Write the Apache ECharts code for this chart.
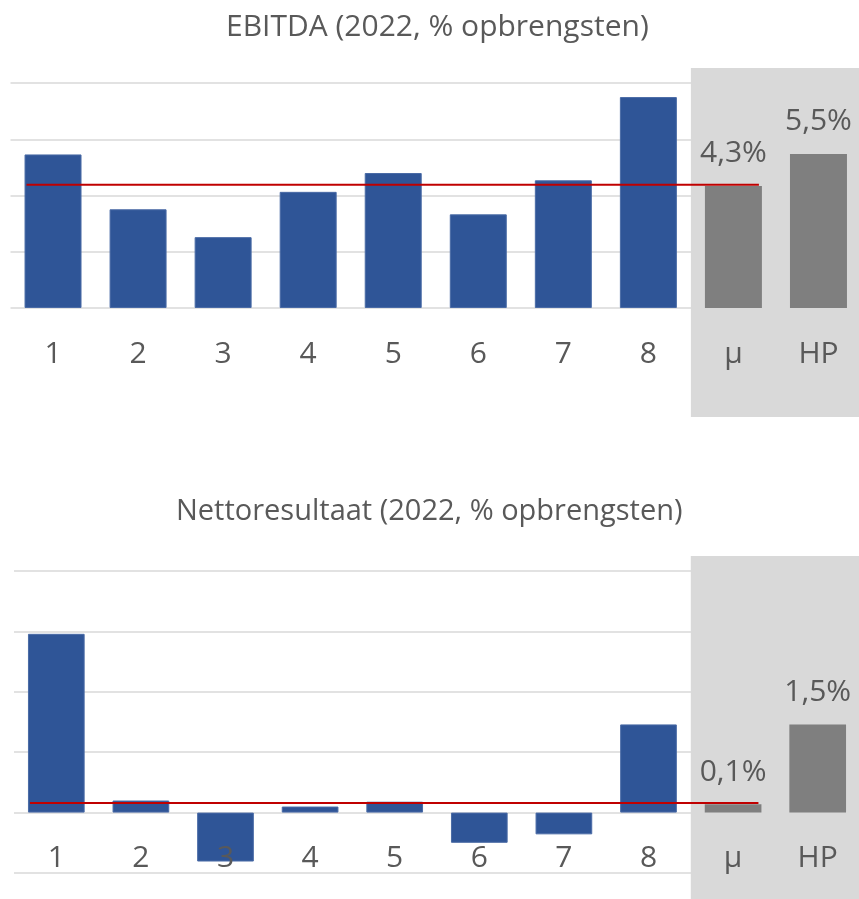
<!DOCTYPE html>
<html lang="nl">
<head>
<meta charset="utf-8">
<title>EBITDA en nettoresultaat</title>
<script src="https://cdn.jsdelivr.net/npm/echarts@6/dist/echarts.min.js"></script>
<style>
  html, body { margin: 0; padding: 0; background: #fff; }
  #container { width: 859px; height: 899px; }
</style>
</head>
<body>
<div id="container"></div>
<script>
// categorieen: 8 bedrijven, gemiddelde (mu) en HP
var categories = ['1', '2', '3', '4', '5', '6', '7', '8', 'μ', 'HP'];
// EBITDA 2022, % van de opbrengsten
var ebitda = [5.46, 3.51, 2.52, 4.13, 4.80, 3.33, 4.54, 7.50, 4.34, 5.48];
// nettoresultaat 2022, % van de opbrengsten
var netto = [2.96, 0.20, -0.81, 0.10, 0.18, -0.50, -0.36, 1.46, 0.14, 1.46];
// rode lijn = gemiddelde
var avgEbitda = 4.38;
var avgNetto = 0.16;

var blue = '#2F5597', grey = '#7F7F7F', panel = '#D9D9D9', red = '#C00000', txt = '#595959';
var font = '"Open Sans", sans-serif';

function barData(values){
    var out = [];
    for (var i = 0; i < values.length; i++){
        var isRef = i >= 8;
        out.push({
            value: values[i],
            itemStyle: { color: isRef ? grey : blue, borderColor: isRef ? grey : '#4A6BA6', borderWidth: isRef ? 0 : 1 },
            label: { show: isRef }
        });
    }
    return out;
}

// rode lijn van linkerrand balk 1 tot rechterrand balk mu
function avgLine(api){
    var a = api.coord([api.value(0), api.value(2)]);
    var b = api.coord([api.value(1), api.value(2)]);
    var half = api.size([1, 0])[0] * 0.67 / 2;
    return {
        type: 'line',
        shape: { x1: a[0] - half + 2, y1: a[1], x2: b[0] + half - 3, y2: b[1] },
        style: { stroke: red, lineWidth: 2 }
    };
}

function xAxisFor(i){
    return {
        type: 'category', gridIndex: i, data: categories, z: 5, position: 'bottom', offset: 0,
        axisLine: { show: false, onZero: false }, axisTick: { show: false },
        axisLabel: { color: txt, fontSize: 30, fontFamily: font, margin: 31 }
    };
}
function yAxisFor(i, min, max, step){
    return {
        type: 'value', gridIndex: i, min: min, max: max, interval: step, z: 0,
        axisLabel: { show: false }, axisLine: { show: false }, axisTick: { show: false },
        splitLine: { lineStyle: { color: '#D9D9D9', width: 1.5 } }
    };
}
function labelFmt(p){ return p.value.toFixed(1).replace('.', ',') + '%'; }

var myChart = echarts.init(document.getElementById('container'));
var option = {
    animation: false,
    title: [
        { text: 'EBITDA (2022, % opbrengsten)', left: 221, top: 7,
          textStyle: { color: txt, fontSize: 30, fontWeight: 'normal', fontFamily: font } },
        { text: 'Nettoresultaat (2022, % opbrengsten)', left: 171, top: 492,
          textStyle: { color: txt, fontSize: 29, fontWeight: 'normal', fontFamily: font } }
    ],
    grid: [
        { left: 10.5, width: 850.5, top: 83, height: 225, outerBoundsMode: 'none' },
        { left: 14, width: 846, top: 571, height: 302, outerBoundsMode: 'none' }
    ],
    xAxis: [xAxisFor(0), xAxisFor(1)],
    yAxis: [yAxisFor(0, 0, 8, 2), yAxisFor(1, -1, 4, 1)],
    series: [
        { type: 'bar', xAxisIndex: 0, yAxisIndex: 0, data: barData(ebitda), barCategoryGap: '33%', z: 2,
          label: { position: 'top', distance: 17, color: txt, fontSize: 30, fontFamily: font, formatter: labelFmt } },
        { type: 'bar', xAxisIndex: 1, yAxisIndex: 1, data: barData(netto), barCategoryGap: '33%', z: 2,
          label: { position: 'top', distance: 17, color: txt, fontSize: 30, fontFamily: font, formatter: labelFmt } },
        { type: 'custom', xAxisIndex: 0, yAxisIndex: 0, z: 4, data: [[0, 8, avgEbitda]],
          encode: { x: [0, 1], y: 2 }, renderItem: function(params, api){ return avgLine(api); } },
        { type: 'custom', xAxisIndex: 1, yAxisIndex: 1, z: 4, data: [[0, 8, avgNetto]],
          encode: { x: [0, 1], y: 2 }, renderItem: function(params, api){ return avgLine(api); } }
    ]
};
myChart.setOption(option);

// categorie-labels op de nullijn zetten (zoals in Excel)
function zeroOffset(gi, min){
    return myChart.convertToPixel({ yAxisIndex: gi }, 0) - myChart.convertToPixel({ yAxisIndex: gi }, min);
}
// grijs vlak achter mu en HP, links op de grens tussen 8 en mu
function panelRect(gi, top, bottom){
    var c8 = myChart.convertToPixel({ xAxisIndex: gi }, 8);
    var c9 = myChart.convertToPixel({ xAxisIndex: gi }, 9);
    var x = c8 - (c9 - c8) / 2;
    return { type: 'rect', z: 1, shape: { x: x, y: top, width: 859 - x, height: bottom - top }, style: { fill: panel } };
}
myChart.setOption({
    xAxis: [{ offset: zeroOffset(0, 0) }, { offset: zeroOffset(1, -1) }],
    graphic: [panelRect(0, 68, 417), panelRect(1, 556, 899)]
});
</script>
</body>
</html>
